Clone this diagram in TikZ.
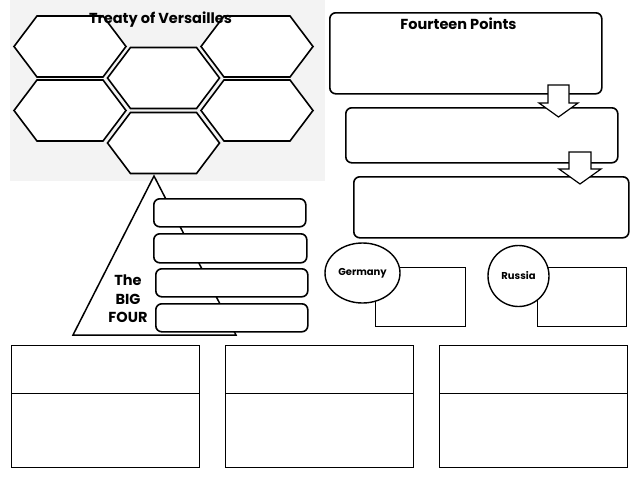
\documentclass[tikz,border=0pt]{standalone}
\usepackage{fontspec}
\setmainfont{Poppins}
\usetikzlibrary{shapes.geometric}
\definecolor{bgpanel}{HTML}{F3F3F3}
\begin{document}
\begin{tikzpicture}[x=1pt,y=-1pt,
  hex/.style={draw=black,line width=1.6pt,fill=white,line join=miter},
  rbox/.style={draw=black,line width=1.6pt,fill=white,rounded corners=6pt,anchor=north west,inner sep=0pt},
  sbox/.style={draw=black,line width=1.4pt,fill=white,anchor=north west,inner sep=0pt},
  blockarrow/.style={draw=black,line width=1.2pt,fill=white,line join=miter},
  title/.style={font=\bfseries\fontsize{14.5}{16}\selectfont,inner sep=0pt},
  small/.style={font=\bfseries\fontsize{10}{12}\selectfont},
  bubble/.style={draw=black,line width=1.4pt,fill=white,inner sep=0pt}]
\useasboundingbox (0,0) rectangle (638,479);
\fill[white] (0,0) rectangle (638,479);
% grey panel
\fill[bgpanel] (10,0) rectangle (325,181);
% hexagons
\foreach \cx/\cy in {70/46.5, 257/46.5, 163.5/78, 70/110.5, 257/110.5, 163.5/143}{
  \draw[hex] (\cx-56,\cy) -- (\cx-33,\cy-30.5) -- (\cx+33,\cy-30.5) -- (\cx+56,\cy)
     -- (\cx+33,\cy+30.5) -- (\cx-33,\cy+30.5) -- cycle;
}
\node[title] (tov) at (160.5,20) {Treaty of Versailles};
% triangle
\draw[hex,line width=1.5pt] (154,176) -- (236,335) -- (73,335) -- cycle;
% Big Four boxes
\node[rbox,minimum width=152pt,minimum height=28pt] (bf1) at (153,198) {};
\node[rbox,minimum width=153pt,minimum height=29pt] (bf2) at (153,233) {};
\node[rbox,minimum width=152pt,minimum height=28pt] (bf3) at (155,268) {};
\node[rbox,minimum width=152pt,minimum height=28pt] (bf4) at (155,303) {};
\node[font=\bfseries\fontsize{14.5}{18.5}\selectfont,align=center,inner sep=0pt] (bigfour) at (128,299) {The\\BIG\\FOUR};
% Fourteen Points boxes
\node[rbox,minimum width=272pt,minimum height=81pt] (fp1) at (329,12) {};
\node[title] (fpt) at (458.5,24) {Fourteen Points};
\node[rbox,minimum width=272pt,minimum height=55pt] (fp2) at (345,107) {};
\node[rbox,minimum width=275pt,minimum height=61pt] (fp3) at (353,176) {};
% block arrows
\draw[blockarrow] (548,85) -- (569,85) -- (569,103) -- (578,103) -- (558.5,117) -- (539,103) -- (548,103) -- cycle;
\draw[blockarrow] (569,152) -- (591,152) -- (591,169) -- (601,169) -- (580,184) -- (559,169) -- (569,169) -- cycle;
% Germany / Russia
\node[sbox,minimum width=90pt,minimum height=59pt] (gerbox) at (375,267) {};
\node[bubble,ellipse,minimum width=75pt,minimum height=60pt,small] (ger) at (362.5,273) {Germany};
\node[sbox,minimum width=89pt,minimum height=59pt] (rusbox) at (537,267) {};
\node[bubble,circle,minimum size=61pt,small] (rus) at (518.5,276) {Russia};
% bottom boxes
\foreach \i/\bx in {1/11, 2/225, 3/439}{
  \node[sbox,minimum width=188pt,minimum height=48pt] (top\i) at (\bx,345) {};
  \node[sbox,minimum width=188pt,minimum height=74pt] (bot\i) at (\bx,393) {};
}
\end{tikzpicture}
\end{document}
